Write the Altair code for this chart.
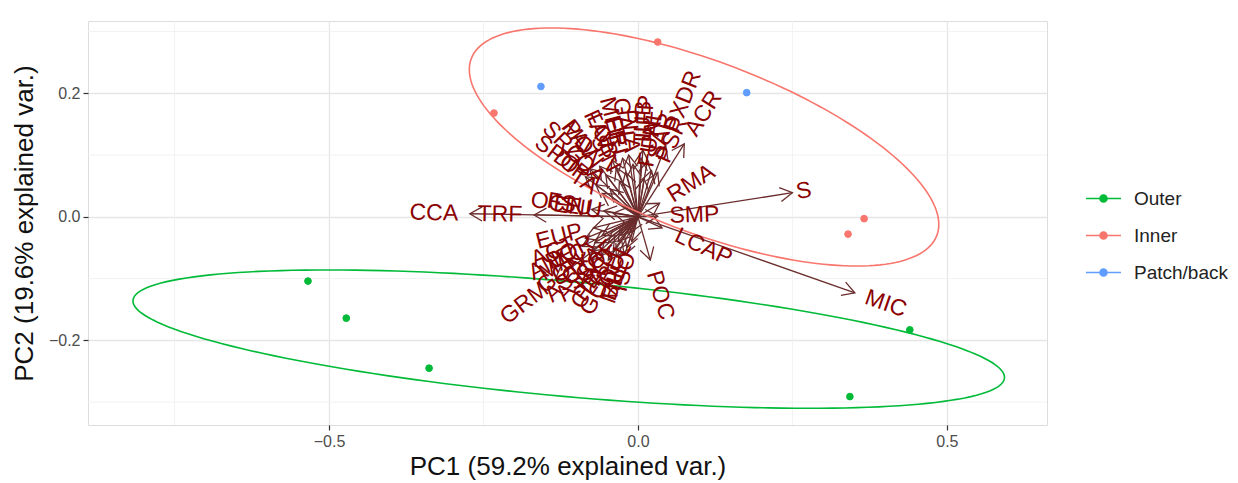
import math
import numpy as np
import pandas as pd
import altair as alt

# ---------------- data ----------------
group_order = ["Outer", "Inner", "Patch/back"]
group_colors = ["#00BA38", "#F8766D", "#619CFF"]

outer_x = [-0.534, -0.472, -0.338, 0.343, 0.440]
outer_y = [-0.104, -0.164, -0.245, -0.291, -0.183]
inner_x = [0.032, -0.233, 0.340, 0.366]
inner_y = [0.283, 0.168, -0.028, -0.003]
patch_x = [-0.157, 0.176]
patch_y = [0.211, 0.201]

# ellipse parameters (centre, semi axes, rotation in degrees)
ell_group = ["Outer", "Inner"]
ell_cx = [-0.112, 0.107]
ell_cy = [-0.198, 0.113]
ell_a = [0.708, 0.403]
ell_b = [0.093, 0.138]
ell_deg = [-5.1, -20.8]

# variable loadings (arrow tips)
var_names = ["CCA", "TRF", "S", "MIC", "ACR", "PXDR", "RMA", "SMP", "LCAP", "POC", "GRM",
             "OCE", "FSU", "ENU",
             "SPO", "SRG", "PAV", "MON", "FAV", "LOB", "SIN", "DIP", "HEL", "GAL", "MER",
             "ZOA", "TA", "PLA", "TUB", "PAL", "SAR", "FUN", "PSR", "LEP",
             "POR", "MAC", "CYA", "GON", "PEC", "ACT", "HYD", "ASC", "GOR", "ANE", "SOF",
             "EUP", "CLA", "BLE", "MIL", "AST", "ISO", "OUL"]
var_x = [-0.272, -0.168, 0.250, 0.351, 0.075, 0.045, 0.035, 0.032, 0.039, 0.020, -0.134,
         -0.075, -0.055, -0.040,
         -0.085, -0.078, -0.062, -0.052, -0.042, -0.035, -0.030, -0.068, -0.020, -0.015, -0.025,
         -0.045, -0.058, -0.008, 0.005, 0.015, 0.022, 0.010, 0.032, 0.008,
         -0.058, -0.070, -0.048, -0.075, -0.040, -0.085, -0.032, -0.060, -0.035, -0.090, -0.028,
         -0.072, -0.048, -0.018, -0.022, -0.078, -0.010, -0.012]
var_y = [0.005, 0.003, 0.039, -0.123, 0.118, 0.115, 0.022, 0.001, -0.018, -0.070, -0.102,
         0.012, 0.010, 0.006,
         0.065, 0.078, 0.082, 0.068, 0.092, 0.080, 0.058, 0.052, 0.072, 0.100, 0.095,
         0.045, 0.038, 0.085, 0.095, 0.090, 0.075, 0.062, 0.072, 0.108,
         -0.030, -0.042, -0.042, -0.055, -0.055, -0.035, -0.040, -0.062, -0.065, -0.048, -0.030,
         -0.018, -0.070, -0.050, -0.062, -0.070, -0.040, -0.025]

minor_x = [-0.75, -0.25, 0.25]
minor_y = [-0.3, -0.1, 0.1, 0.3]
tick_x = [-0.5, 0.0, 0.5]
tick_y = [-0.2, 0.0, 0.2]

# ---------------- tables ----------------
pts = pd.DataFrame({
    "PC1": outer_x + inner_x + patch_x,
    "PC2": outer_y + inner_y + patch_y,
    "group": ["Outer"] * len(outer_x) + ["Inner"] * len(inner_x) + ["Patch/back"] * len(patch_x),
})

rows = []
for g, cx, cy, a, b, d in zip(ell_group, ell_cx, ell_cy, ell_a, ell_b, ell_deg):
    th = math.radians(d)
    for i, t in enumerate(np.linspace(0, 2 * np.pi, 181)):
        rows.append({
            "group": g, "i": i,
            "PC1": cx + a * np.cos(t) * np.cos(th) - b * np.sin(t) * np.sin(th),
            "PC2": cy + a * np.cos(t) * np.sin(th) + b * np.sin(t) * np.cos(th),
        })
ell = pd.DataFrame(rows)

PX_PER_UNIT = 618.0
LABEL_SIZE = 23
vx = np.array(var_x)
vy = np.array(var_y)
norm = np.sqrt(vx ** 2 + vy ** 2)
width_px = np.array([0.68 * LABEL_SIZE * len(n) for n in var_names])
off = 0.25 * width_px / PX_PER_UNIT
gg_angle = np.degrees(np.arctan(vy / vx))
vars_df = pd.DataFrame({
    "name": var_names,
    "x": vx, "y": vy,
    "x0": 0.0, "y0": 0.0,
    "lx": vx + off * vx / norm,
    "ly": vy + off * vy / norm,
    "tang": np.mod(-gg_angle, 360),
    "hang": np.mod(np.degrees(np.arctan2(-vy, vx)), 360),
    "side": np.where(vx > 0, "pos", "neg"),
})

# ---------------- scales / encodings ----------------
xs = alt.Scale(domain=[-0.89, 0.662], nice=False, zero=False)
ys = alt.Scale(domain=[-0.337, 0.317], nice=False, zero=False)
col_scale = alt.Scale(domain=group_order, range=group_colors)

x_axis = alt.Axis(values=tick_x, format=".1f", title="PC1 (59.2% explained var.)",
                  grid=True, gridColor="#e6e6e6", gridWidth=1.3, domain=False,
                  tickColor="#333333", tickSize=5, tickWidth=1.2,
                  labelColor="#4d4d4d", labelFontSize=16, labelPadding=3,
                  titleFontSize=26, titleFontWeight="normal", titleColor="#111111", titlePadding=4)
y_axis = alt.Axis(values=tick_y, format=".1f", title="PC2 (19.6% explained var.)",
                  grid=True, gridColor="#e6e6e6", gridWidth=1.3, domain=False,
                  tickColor="#333333", tickSize=5, tickWidth=1.2,
                  labelColor="#4d4d4d", labelFontSize=16, labelPadding=3,
                  titleFontSize=26, titleFontWeight="normal", titleColor="#111111", titlePadding=11)


def X(field):
    return alt.X(field, type="quantitative", scale=xs, axis=x_axis)


def Y(field):
    return alt.Y(field, type="quantitative", scale=ys, axis=y_axis)


minor_v = alt.Chart(pd.DataFrame({"v": minor_x})).mark_rule(color="#f1f1f1", strokeWidth=0.9).encode(x=X("v"))
minor_h = alt.Chart(pd.DataFrame({"v": minor_y})).mark_rule(color="#f1f1f1", strokeWidth=0.9).encode(y=Y("v"))

arrow_col = "#6a2c2c"
segs = alt.Chart(vars_df).mark_rule(color=arrow_col, strokeWidth=1.3).encode(
    x=X("x0"), y=Y("y0"), x2="x", y2="y")
heads = alt.Chart(vars_df).mark_point(
    shape="M-1,-0.577L0,0L-1,0.577", filled=False, size=600,
    color=arrow_col, strokeWidth=1.3, opacity=1).encode(
    x=X("x"), y=Y("y"), angle=alt.Angle("hang:Q", scale=None))

legend_path = "M-1,0L1,0M0.2,0A0.2,0.2,0,1,1,-0.2,0A0.2,0.2,0,1,1,0.2,0Z"
legend = alt.Legend(title=None, orient="none", legendX=997, legendY=159, padding=0,
                    symbolType=legend_path, symbolSize=1225, symbolStrokeWidth=1.6,
                    labelFontSize=19, labelColor="#222222", labelOffset=12, rowPadding=8,
                    symbolOpacity=1)

points = alt.Chart(pts).mark_point(filled=True, size=45, opacity=1, strokeWidth=1).encode(
    x=X("PC1"), y=Y("PC2"),
    fill=alt.Fill("group:N", scale=col_scale, legend=legend),
    stroke=alt.Stroke("group:N", scale=col_scale, legend=legend))

ellipses = alt.Chart(ell).mark_line(strokeWidth=1.6).encode(
    x=X("PC1"), y=Y("PC2"),
    stroke=alt.Stroke("group:N", scale=col_scale, legend=legend),
    detail="group:N", order="i:Q")

text_common = dict(font="Liberation Sans", fontSize=LABEL_SIZE, color="#8B0000", baseline="middle")
labels_pos = alt.Chart(vars_df).transform_filter(alt.datum.side == "pos").mark_text(
    align="left", **text_common).encode(
    x=X("lx"), y=Y("ly"), text="name:N", angle=alt.Angle("tang:Q", scale=None))
labels_neg = alt.Chart(vars_df).transform_filter(alt.datum.side == "neg").mark_text(
    align="right", **text_common).encode(
    x=X("lx"), y=Y("ly"), text="name:N", angle=alt.Angle("tang:Q", scale=None))

chart = alt.layer(minor_v, minor_h, segs, heads, points, ellipses, labels_pos, labels_neg).properties(
    width=959, height=404,
    padding={"left": 80, "top": 13, "right": 183, "bottom": 58},
    autosize=alt.AutoSizeParams(type="none"),
).configure_view(
    stroke="#7f7f7f", strokeWidth=1.4
).configure(
    font="Liberation Sans", background="white"
)

chart.save("out.html", embed_options={"renderer": "svg", "actions": False})
